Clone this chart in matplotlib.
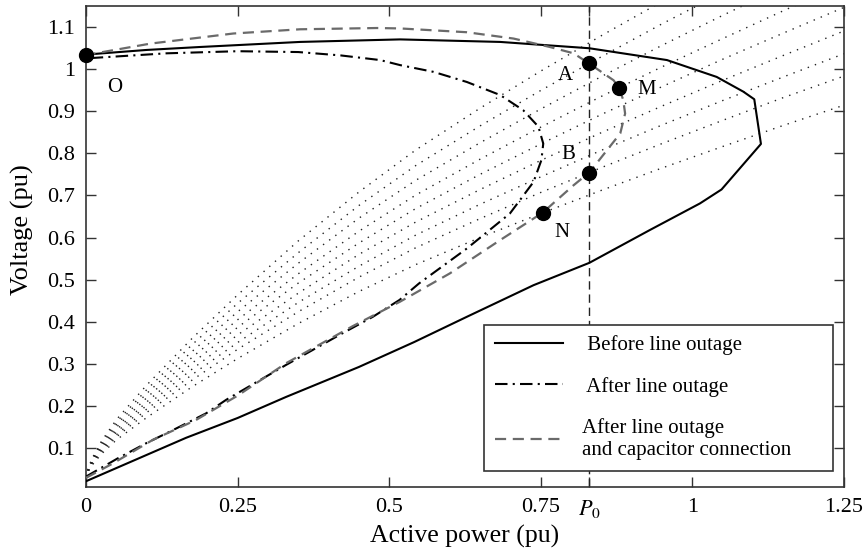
import matplotlib

matplotlib.use("Agg")
import matplotlib.pyplot as plt
from matplotlib.lines import Line2D

# PV curve before line outage (lower branch from origin, round the nose, back along upper branch)
before_p = [0.0, 0.165, 0.25, 0.33, 0.45, 0.541, 0.628, 0.738, 0.83, 0.93, 1.0125, 1.048,
            1.113, 1.102, 1.084, 1.04, 0.958, 0.83, 0.683, 0.518, 0.353, 0.188, 0.1, 0.0]
before_v = [0.022, 0.125, 0.172, 0.222, 0.293, 0.352, 0.412, 0.487, 0.540, 0.618, 0.681, 0.714,
            0.822, 0.928, 0.946, 0.981, 1.021, 1.049, 1.064, 1.070, 1.064, 1.052, 1.045, 1.034]

# after line outage
outage_p = [0.0, 0.052, 0.099, 0.143, 0.198, 0.231, 0.33, 0.423, 0.473, 0.517, 0.549, 0.628, 0.699,
            0.738, 0.751, 0.754, 0.746, 0.721, 0.683, 0.628, 0.573, 0.518, 0.485, 0.42, 0.35, 0.25,
            0.133, 0.0]
outage_v = [0.033, 0.076, 0.112, 0.143, 0.183, 0.215, 0.298, 0.373, 0.412, 0.452, 0.491, 0.574, 0.657,
            0.732, 0.784, 0.823, 0.863, 0.902, 0.938, 0.969, 0.993, 1.009, 1.021, 1.032, 1.040, 1.042,
            1.037, 1.025]

# after line outage and capacitor connection
cap_p = [0.0, 0.044, 0.11, 0.181, 0.25, 0.33, 0.44, 0.518, 0.60, 0.683, 0.753, 0.804, 0.8295, 0.842,
         0.859, 0.881, 0.889, 0.886, 0.879, 0.87, 0.8295, 0.804, 0.765, 0.705, 0.628, 0.518, 0.48,
         0.353, 0.243, 0.106, 0.0]
cap_v = [0.030, 0.064, 0.12, 0.167, 0.225, 0.302, 0.39, 0.448, 0.515, 0.594, 0.659, 0.724, 0.754, 0.776,
         0.807, 0.847, 0.894, 0.926, 0.955, 0.973, 1.013, 1.037, 1.052, 1.072, 1.087, 1.096, 1.097,
         1.094, 1.084, 1.060, 1.033]

# load characteristics (dotted fan), sampled at load_p
load_p = [0, 0.003, 0.01, 0.025, 0.05, 0.1, 0.175, 0.25, 0.35, 0.45, 0.544, 0.65, 0.75, 0.85, 0.95,
          1.05, 1.15, 1.25]
load_1 = [0.030, 0.050, 0.076, 0.116, 0.168, 0.250, 0.361, 0.464, 0.592, 0.708, 0.808, 0.907, 0.995,
          1.079, 1.160, 1.239, 1.315, 1.389]
load_2 = [0.030, 0.050, 0.074, 0.112, 0.162, 0.239, 0.346, 0.444, 0.564, 0.676, 0.771, 0.865, 0.949,
          1.029, 1.107, 1.181, 1.254, 1.324]
load_3 = [0.030, 0.049, 0.072, 0.108, 0.156, 0.230, 0.330, 0.424, 0.539, 0.646, 0.736, 0.825, 0.905,
          0.982, 1.056, 1.127, 1.196, 1.263]
load_4 = [0.030, 0.048, 0.070, 0.104, 0.150, 0.220, 0.316, 0.405, 0.514, 0.615, 0.701, 0.786, 0.862,
          0.935, 1.005, 1.072, 1.138, 1.202]
load_5 = [0.030, 0.047, 0.068, 0.100, 0.144, 0.210, 0.302, 0.387, 0.492, 0.587, 0.669, 0.750, 0.822,
          0.892, 0.958, 1.023, 1.085, 1.146]
load_6 = [0.030, 0.046, 0.066, 0.097, 0.138, 0.202, 0.288, 0.369, 0.468, 0.560, 0.637, 0.714, 0.783,
          0.849, 0.912, 0.973, 1.032, 1.090]
load_7 = [0.030, 0.045, 0.064, 0.094, 0.132, 0.193, 0.275, 0.351, 0.446, 0.532, 0.606, 0.679, 0.744,
          0.807, 0.867, 0.925, 0.981, 1.036]
load_8 = [0.030, 0.044, 0.063, 0.090, 0.127, 0.185, 0.262, 0.335, 0.424, 0.506, 0.576, 0.645, 0.707,
          0.766, 0.823, 0.878, 0.932, 0.983]
load_9 = [0.030, 0.044, 0.060, 0.086, 0.120, 0.173, 0.246, 0.313, 0.396, 0.472, 0.536, 0.600, 0.657,
          0.712, 0.765, 0.816, 0.866, 0.914]

# operating points
pt_names = ["O", "A", "M", "B", "N"]
pt_p = [0.0, 0.8295, 0.879, 0.8295, 0.753]
pt_v = [1.033, 1.013, 0.955, 0.754, 0.659]
pt_text_p = [0.048, 0.79, 0.925, 0.795, 0.785]
pt_text_v = [0.957, 0.985, 0.950, 0.796, 0.613]

p0 = 0.8295
x_ticks = [0, 0.25, 0.5, 0.75, p0, 1, 1.25]
x_labels = ["0", "0.25", "0.5", "0.75", "$P_0$", "1", "1.25"]
y_ticks = [0.1, 0.2, 0.3, 0.4, 0.5, 0.6, 0.7, 0.8, 0.9, 1.0, 1.1]
y_labels = ["0.1", "0.2", "0.3", "0.4", "0.5", "0.6", "0.7", "0.8", "0.9", "1", "1.1"]

plt.rcParams["font.family"] = ["Liberation Serif", "DejaVu Serif"]
plt.rcParams["mathtext.fontset"] = "stix"

fig = plt.figure(figsize=(8.63, 5.51), dpi=100)
ax = fig.add_axes([0.0997, 0.1167, 0.8783, 0.873])

for v in [load_1, load_2, load_3, load_4, load_5, load_6, load_7, load_8, load_9]:
    ax.plot(load_p, v, color="#222222", lw=1.0, dashes=(1, 4.5), zorder=1)

ax.axvline(p0, color="#222222", lw=1.0, dashes=(6, 3.5), zorder=2)

ax.plot(before_p, before_v, color="black", lw=1.5, zorder=3)
ax.plot(outage_p, outage_v, color="black", lw=1.5, dashes=(6, 2.5, 1, 2.5), zorder=3)
ax.plot(cap_p, cap_v, color="#6a6a6a", lw=1.6, dashes=(5, 3), zorder=3)

ax.plot(pt_p, pt_v, "o", color="black", ms=10, zorder=5, clip_on=False)
for name, tp, tv in zip(pt_names, pt_text_p, pt_text_v):
    ax.text(tp, tv, name, fontsize=15, ha="center", va="center", zorder=6)

ax.set_xlim(0, 1.25)
ax.set_ylim(0.009, 1.15)
ax.set_xticks(x_ticks)
ax.set_xticklabels(x_labels)
ax.set_yticks(y_ticks)
ax.set_yticklabels(y_labels)
ax.tick_params(direction="in", top=True, right=True, length=7, width=1, color="#333333",
               labelsize=16, pad=8)
for spine in ax.spines.values():
    spine.set_color("#333333")
    spine.set_linewidth(1.2)

ax.set_xlabel("Active power (pu)", fontsize=18.5, labelpad=4)
ax.set_ylabel("Voltage (pu)", fontsize=19)
ax.yaxis.set_label_coords(-0.068, 0.535)

handles = [
    Line2D([], [], color="black", lw=1.5),
    Line2D([], [], color="black", lw=1.5, dashes=(6, 2.5, 1, 2.5)),
    Line2D([], [], color="#6a6a6a", lw=1.6, dashes=(5, 3)),
]
labels = [" Before line outage", " After line outage",
          "After line outage\nand capacitor connection      "]
leg = ax.legend(handles, labels, loc="lower right", bbox_to_anchor=(0.9859, 0.0333),
                fontsize=15, frameon=True, fancybox=False, framealpha=1, edgecolor="#333333",
                handlelength=3.3, handletextpad=0.9, labelspacing=1.05, borderpad=0.5,
                borderaxespad=0)
leg.get_frame().set_linewidth(1.2)

fig.savefig("out.png", dpi=100)
